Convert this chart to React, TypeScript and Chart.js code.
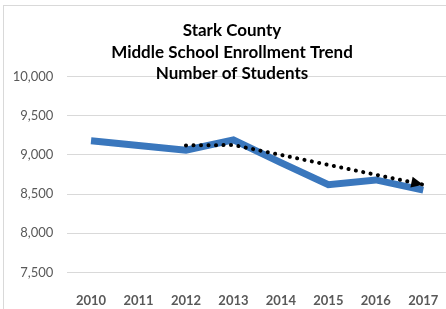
import React, { useEffect, useRef } from "react";
import { Chart, registerables } from "chart.js";

Chart.register(...registerables);

const years = ["2010", "2011", "2012", "2013", "2014", "2015", "2016", "2017"];
const enrollment = [9180, 9120, 9060, 9190, 8900, 8620, 8680, 8550];
const trend = [null, null, 9120, 9125, null, null, null, 8620];
const titleLines = ["Stark County", "Middle School Enrollment Trend", "Number of Students"];
const yMin = 7500;
const yMax = 10000;
const yStep = 500;

const framePlugin = {
  id: "frame",
  beforeDraw(chart: any) {
    const ctx = chart.ctx;
    ctx.save();
    ctx.fillStyle = "#ffffff";
    ctx.fillRect(0, 0, chart.width, chart.height);
    ctx.strokeStyle = "#d9d9d9";
    ctx.lineWidth = 1;
    ctx.strokeRect(3.5, 5.5, chart.width + 10, chart.height + 10);
    ctx.restore();
  },
};

const arrowPlugin = {
  id: "arrowHead",
  afterDatasetsDraw(chart: any) {
    const meta = chart.getDatasetMeta(0);
    const pts = meta.data;
    const ds = chart.data.datasets[0].data;
    const idx: number[] = [];
    ds.forEach((v: any, i: number) => {
      if (v !== null && v !== undefined) idx.push(i);
    });
    if (idx.length < 2) return;
    const a = pts[idx[idx.length - 2]];
    const b = pts[idx[idx.length - 1]];
    const ang = Math.atan2(b.y - a.y, b.x - a.x);
    const len = 12;
    const hw = 5.5;
    const ctx = chart.ctx;
    ctx.save();
    ctx.fillStyle = "#000000";
    ctx.beginPath();
    ctx.moveTo(b.x, b.y);
    const bx = b.x - len * Math.cos(ang);
    const by = b.y - len * Math.sin(ang);
    ctx.lineTo(bx + hw * Math.sin(ang), by - hw * Math.cos(ang));
    ctx.lineTo(bx - hw * Math.sin(ang), by + hw * Math.cos(ang));
    ctx.closePath();
    ctx.fill();
    ctx.restore();
  },
};

export default function App() {
  const ref = useRef<HTMLCanvasElement | null>(null);
  useEffect(() => {
    if (!ref.current) return;
    const chart = new Chart(ref.current, {
      type: "line",
      data: {
        labels: years,
        datasets: [
          {
            label: "Trend",
            data: trend as any,
            borderColor: "#000000",
            borderWidth: 4,
            borderDash: [0.1, 7.4],
            borderCapStyle: "round",
            pointRadius: 0,
            spanGaps: true,
            fill: false,
          },
          {
            label: "Enrollment",
            data: enrollment,
            borderColor: "#3a77bd",
            borderWidth: 7,
            borderJoinStyle: "miter",
            borderCapStyle: "butt",
            pointRadius: 0,
            fill: false,
            tension: 0,
          },
        ],
      },
      options: {
        animation: false,
        responsive: false,
        layout: { padding: 0 },
        plugins: {
          legend: { display: false },
          tooltip: { enabled: false },
          title: {
            display: true,
            text: titleLines,
            color: "#000000",
            font: { family: "Lato", size: 17, weight: "bold", lineHeight: "21.5px" } as any,
            padding: { top: 20, bottom: -8.1 },
          },
        },
        scales: {
          x: {
            offset: true,
            grid: { display: false },
            border: { display: false },
            ticks: {
              color: "#595959",
              font: { family: "Lato", size: 13, weight: "bold" },
              padding: 13,
              maxRotation: 0,
            },
            afterFit: (s: any) => {
              s.height = 36.5;
            },
          },
          y: {
            min: yMin,
            max: yMax,
            ticks: {
              stepSize: yStep,
              color: "#595959",
              font: { family: "Lato", size: 13 },
              padding: 14,
              callback: (v: any) => Number(v).toLocaleString("en-US"),
            },
            grid: { color: "#d9d9d9", lineWidth: 1, drawTicks: false },
            border: { display: false },
            afterFit: (s: any) => {
              s.width = 67.3;
            },
          },
          y2: {
            position: "right",
            min: yMin,
            max: yMax,
            grid: { display: false },
            border: { display: false },
            ticks: { display: false },
            afterFit: (s: any) => {
              s.width = 17;
            },
          },
        },
      },
      plugins: [framePlugin, arrowPlugin],
    } as any);
    return () => chart.destroy();
  }, []);
  return (
    <div
      style={{
        position: "absolute",
        left: 0,
        top: 0,
        width: 446,
        height: 309,
        overflow: "hidden",
        background: "#fff",
      }}
    >
      <canvas ref={ref} width={464} height={309} style={{ display: "block" }} />
    </div>
  );
}
